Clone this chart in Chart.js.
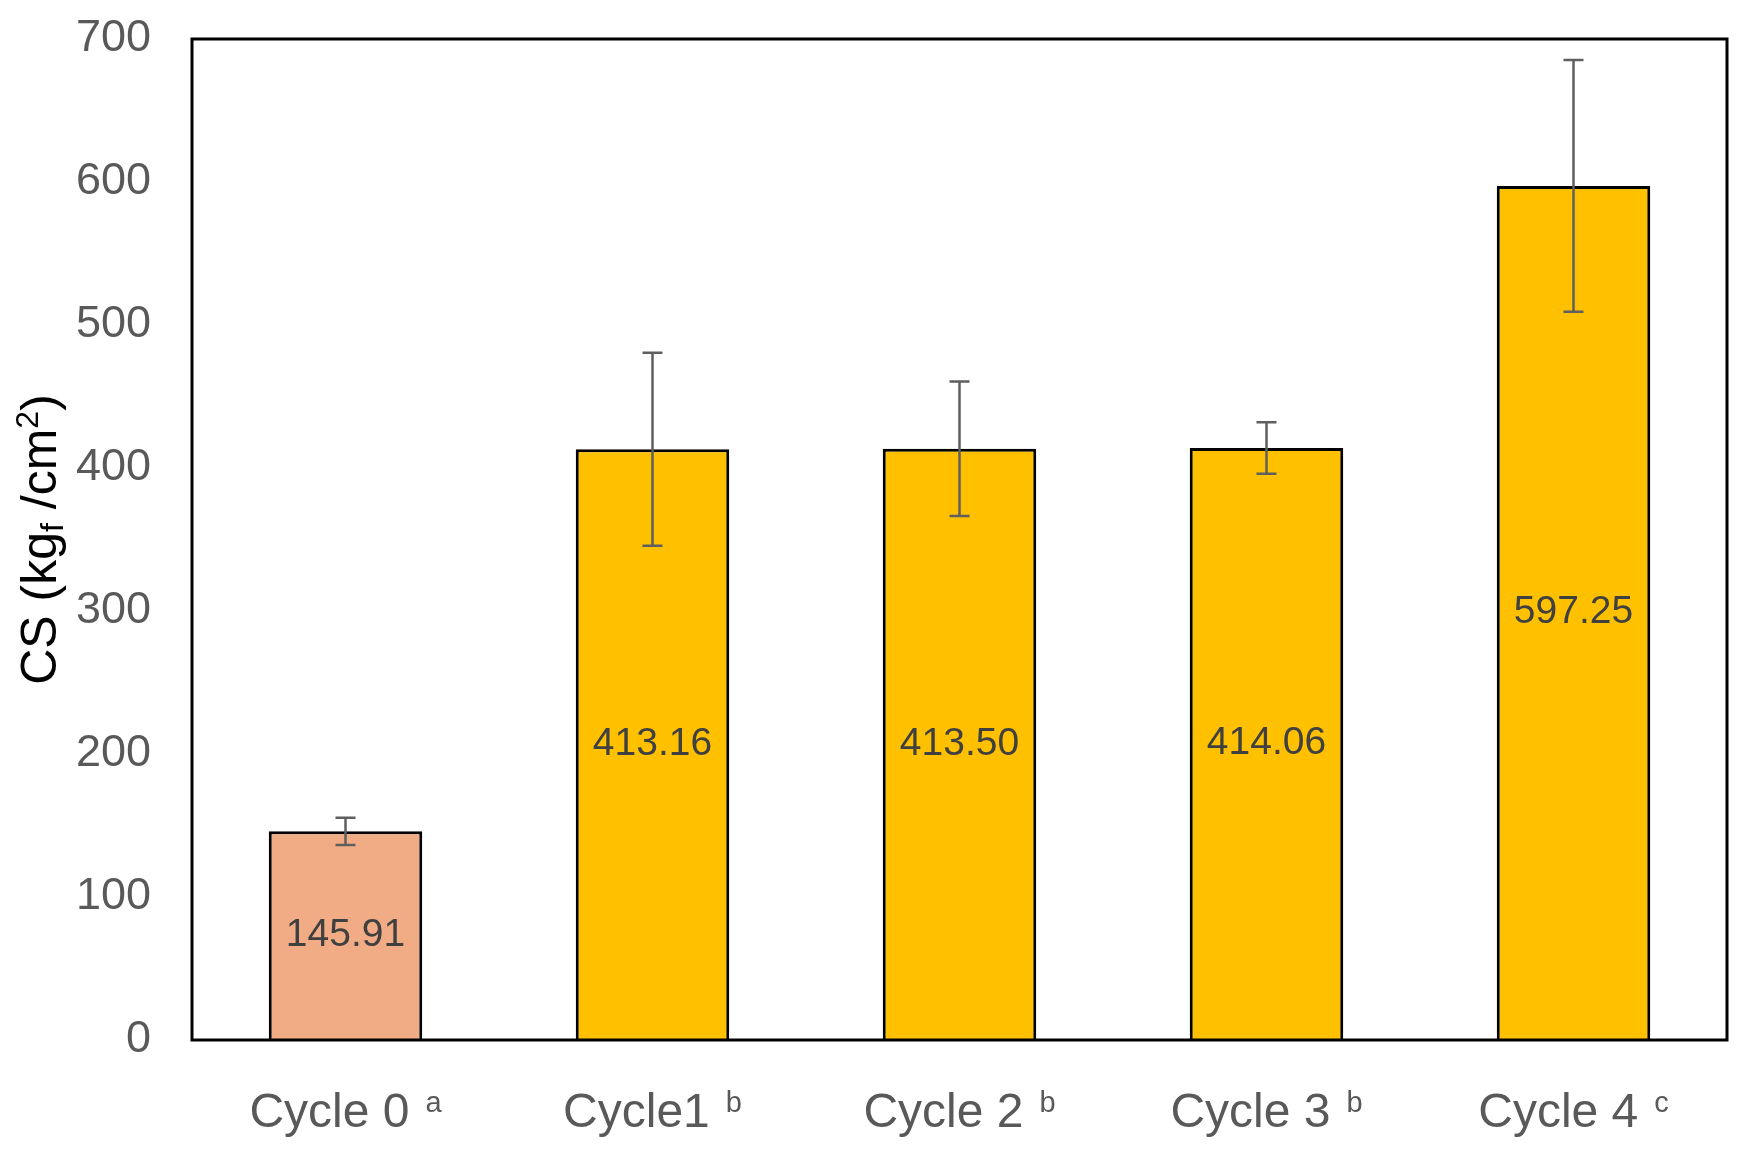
<!DOCTYPE html>
<html>
<head>
<meta charset="utf-8">
<script src="https://cdn.jsdelivr.net/npm/chart.js@4"></script>
<style>
  html, body { margin: 0; padding: 0; background: #ffffff; }
  #c { display: block; }
</style>
</head>
<body>
<canvas id="c" width="1749" height="1154"></canvas>
<script>
// ---- data ----
const categories = ['Cycle 0', 'Cycle1', 'Cycle 2', 'Cycle 3', 'Cycle 4'];
const groupLetters = ['a', 'b', 'b', 'b', 'c'];
const csValues = [145.91, 413.16, 413.50, 414.06, 597.25];
const csErrors = [9.5, 67.5, 47, 18, 88];
const barColors = ['#F2AC85', '#FFC000', '#FFC000', '#FFC000', '#FFC000'];
const yMin = 0, yMax = 700, yStep = 100;

const FONT = "'Liberation Sans', Arial, Helvetica, sans-serif";

const errorBarPlugin = {
  id: 'errorBars',
  afterDatasetsDraw(chart) {
    const ctx = chart.ctx;
    const y = chart.scales.y;
    const meta = chart.getDatasetMeta(0);
    ctx.save();
    ctx.strokeStyle = '#5f5f5f';
    ctx.lineWidth = 2.5;
    meta.data.forEach((bar, i) => {
      const top = y.getPixelForValue(csValues[i] + csErrors[i]);
      const bot = y.getPixelForValue(csValues[i] - csErrors[i]);
      const cx = bar.x;
      ctx.beginPath();
      ctx.moveTo(cx, top); ctx.lineTo(cx, bot);
      ctx.moveTo(cx - 10, top); ctx.lineTo(cx + 10, top);
      ctx.moveTo(cx - 10, bot); ctx.lineTo(cx + 10, bot);
      ctx.stroke();
    });
    // value labels
    ctx.fillStyle = '#404040';
    ctx.font = '39px ' + FONT;
    ctx.textAlign = 'center';
    ctx.textBaseline = 'middle';
    meta.data.forEach((bar, i) => {
      const mid = (bar.y + bar.base) / 2;
      ctx.fillText(csValues[i].toFixed(2), bar.x, mid);
    });
    ctx.restore();
  },
  afterDraw(chart) {
    const ctx = chart.ctx;
    const a = chart.chartArea;
    ctx.save();
    // plot border
    ctx.strokeStyle = '#000000';
    ctx.lineWidth = 3;
    ctx.strokeRect(a.left, a.top, a.right - a.left, a.bottom - a.top);

    // x labels with superscript letters
    const meta = chart.getDatasetMeta(0);
    const mainSize = 48, supSize = 29;
    const baseY = a.bottom + 87;
    ctx.fillStyle = '#595959';
    ctx.textBaseline = 'alphabetic';
    ctx.textAlign = 'left';
    meta.data.forEach((bar, i) => {
      ctx.font = mainSize + 'px ' + FONT;
      const wMain = ctx.measureText(categories[i]).width;
      ctx.font = supSize + 'px ' + FONT;
      const wSup = ctx.measureText(groupLetters[i]).width;
      const gap = 16;
      const total = wMain + gap + wSup;
      const x0 = bar.x - total / 2;
      ctx.font = mainSize + 'px ' + FONT;
      ctx.fillText(categories[i], x0, baseY);
      ctx.font = supSize + 'px ' + FONT;
      ctx.fillText(groupLetters[i], x0 + wMain + gap, baseY - 15);
    });

    // y axis title: CS (kg_f /cm^2)
    const tSize = 50, sSize = 32;
    const cyMid = (a.top + a.bottom) / 2 + 0;
    ctx.translate(56, cyMid);
    ctx.rotate(-Math.PI / 2);
    ctx.fillStyle = '#000000';
    const parts = [
      { t: 'CS (kg', size: tSize, dy: 0 },
      { t: 'f', size: sSize, dy: 7 },
      { t: ' /cm', size: tSize, dy: 0 },
      { t: '2', size: sSize, dy: -18 },
      { t: ')', size: tSize, dy: 0 }
    ];
    let totalW = 0;
    parts.forEach(p => { ctx.font = p.size + 'px ' + FONT; p.w = ctx.measureText(p.t).width; totalW += p.w; });
    let x = -totalW / 2;
    parts.forEach(p => {
      ctx.font = p.size + 'px ' + FONT;
      ctx.fillText(p.t, x, p.dy);
      x += p.w;
    });
    ctx.restore();
  }
};

new Chart(document.getElementById('c'), {
  type: 'bar',
  data: {
    labels: categories,
    datasets: [{
      data: csValues,
      backgroundColor: barColors,
      borderColor: '#000000',
      borderWidth: 3,
      barPercentage: 0.5,
      categoryPercentage: 1.0
    }]
  },
  options: {
    responsive: false,
    devicePixelRatio: 1,
    animation: false,
    layout: { padding: { top: 39, right: 22, left: 0, bottom: 0 } },
    plugins: { legend: { display: false }, tooltip: { enabled: false } },
    scales: {
      x: {
        grid: { display: false, drawTicks: false },
        border: { display: false },
        ticks: { display: false },
        afterFit(scale) { scale.height = 114; }
      },
      y: {
        min: yMin, max: yMax,
        grid: {
          display: true,
          drawOnChartArea: false,
          drawTicks: true,
          tickLength: 38,
          color: 'rgba(0,0,0,0)',
          tickColor: 'rgba(0,0,0,0)'
        },
        border: { display: false },
        ticks: {
          stepSize: yStep,
          padding: 3,
          color: '#595959',
          font: { family: FONT, size: 45 }
        },
        afterFit(scale) { scale.width = 192; }
      }
    }
  },
  plugins: [errorBarPlugin]
});
</script>
</body>
</html>
